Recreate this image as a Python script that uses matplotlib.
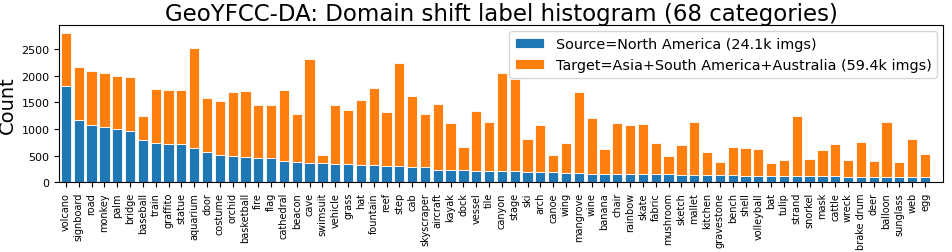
import numpy as np
import matplotlib
matplotlib.use('Agg')
import matplotlib.pyplot as plt

categories = ['volcano', 'signboard', 'road', 'monkey', 'palm', 'bridge', 'baseball', 'train',
              'graffito', 'statue', 'aquarium', 'door', 'costume', 'orchid', 'basketball', 'fire',
              'flag', 'cathedral', 'beacon', 'cave', 'swimsuit', 'vehicle', 'grass', 'hat',
              'fountain', 'reef', 'step', 'cab', 'skyscraper', 'aircraft', 'kayak', 'dock',
              'vessel', 'tile', 'canyon', 'stage', 'ski', 'arch', 'canoe', 'wing', 'mangrove',
              'wine', 'banana', 'chair', 'rainbow', 'skate', 'fabric', 'mushroom', 'sketch',
              'mallet', 'kitchen', 'gravestone', 'bench', 'shell', 'volleyball', 'bat', 'tulip',
              'strand', 'snorkel', 'mask', 'cattle', 'wreck', 'brake drum', 'deer', 'balloon',
              'sunglass', 'web', 'egg']

# source (North America) counts, bottom of each bar
source = [1800, 1162, 1068, 1030, 992, 967, 785, 741, 722, 710, 647, 571, 509, 496, 471, 446,
          446, 402, 383, 370, 364, 352, 339, 327, 327, 308, 308, 289, 283, 232, 232, 226,
          220, 214, 207, 207, 195, 188, 188, 170, 170, 163, 157, 157, 157, 151, 151, 151, 144,
          144, 144, 138, 138, 126, 126, 126, 126, 119, 119, 119, 119, 107, 107, 100, 100,
          100, 94, 94]

# total height of each bar (source + target)
total = [2800, 2167, 2079, 2041, 1997, 1978, 1243, 1746, 1733, 1721, 2506, 1583, 1520, 1689,
         1702, 1451, 1451, 1721, 1287, 2305, 502, 1444, 1350, 1539, 1765, 1325, 2242, 1614,
         1287, 1470, 1112, 659, 1331, 1137, 2041, 1941, 804, 1074, 515, 735, 1683, 1206, 622,
         1105, 1068, 1093, 741, 490, 697, 1137, 559, 377, 659, 634, 622, 358, 414, 1237, 433,
         597, 716, 414, 747, 402, 1124, 389, 816, 521]

target = [t - s for t, s in zip(total, source)]

fig = plt.figure(figsize=(9.52, 2.53), dpi=100)
ax = fig.add_axes([0.0623, 0.2755, 0.9282, 0.6205])
x = np.arange(len(categories))
ax.bar(x, source, width=0.8, color='#1f77b4', edgecolor='white', linewidth=0.6,
       label='Source=North America (24.1k imgs)')
ax.bar(x, target, bottom=source, width=0.8, color='#ff7f0e', edgecolor='white', linewidth=0.6,
       label='Target=Asia+South America+Australia (59.4k imgs)')

ax.set_xticks(x)
ax.set_xticklabels(categories, rotation=90, fontsize=7)
ax.tick_params(axis='y', labelsize=8)
ax.set_xlim(-0.52, 68.4)
ax.set_ylabel('Count', fontsize=14, labelpad=3)
ax.set_title('GeoYFCC-DA: Domain shift label histogram (68 categories)', fontsize=16.5, pad=3)
ax.legend(loc='upper right', fontsize=10.4, borderaxespad=0.4)

plt.savefig('out.png', dpi=100)
plt.close(fig)
